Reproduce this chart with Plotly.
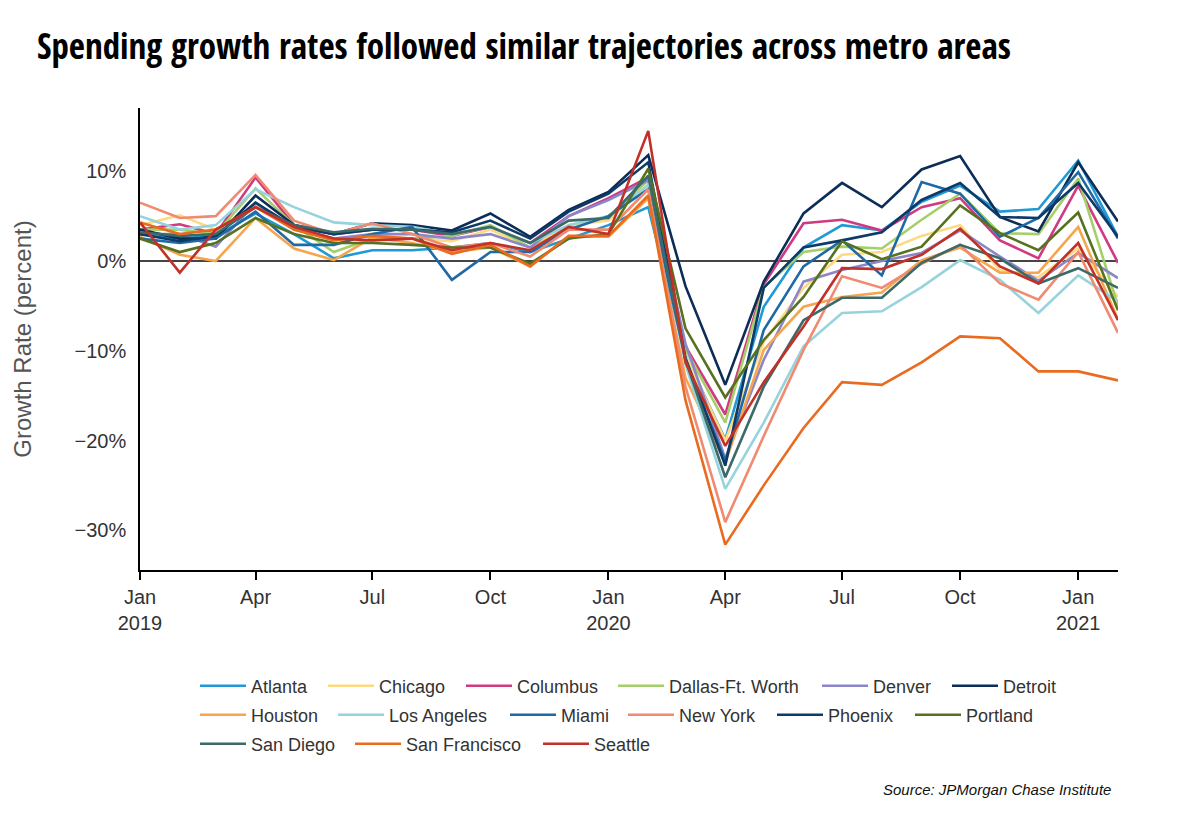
import plotly.graph_objects as go
import pandas as pd

months = pd.date_range("2019-01-01", "2021-02-01", freq="MS").strftime("%Y-%m-%d").tolist()

atlanta = [3.0, 2.5, 2.8, 5.3, 3.0, 0.3, 1.2, 1.2, 1.5, 2.0, 1.0, 2.5, 4.0, 6.0, -10.5, -19.9, -5.1, 1.5, 4.0, 3.4, 6.6, 8.4, 5.5, 5.8, 11.2, 2.7]
chicago = [4.0, 5.1, 3.5, 6.2, 3.5, 2.5, 2.8, 2.5, 2.2, 3.5, 1.5, 4.0, 4.5, 8.5, -10.5, -20.0, -9.0, -3.0, 0.7, 1.0, 2.8, 4.0, -1.0, -1.8, 1.4, -4.0]
columbus = [3.5, 4.1, 3.0, 9.3, 4.0, 3.0, 3.5, 3.5, 2.8, 3.8, 2.0, 5.0, 7.0, 9.3, -9.5, -17.1, -2.6, 4.2, 4.6, 3.4, 6.0, 7.0, 2.3, 0.3, 8.4, -0.2]
dallas = [3.5, 3.5, 3.0, 8.1, 4.0, 1.0, 2.5, 2.5, 2.8, 4.0, 1.5, 3.5, 5.0, 9.0, -9.8, -18.0, -2.9, 1.0, 1.6, 1.4, 4.6, 7.5, 3.1, 3.0, 9.2, -5.0]
denver = [3.0, 3.0, 1.6, 6.5, 3.5, 2.5, 3.0, 3.0, 2.5, 3.0, 1.5, 5.0, 6.8, 9.0, -9.2, -22.0, -11.0, -2.3, -1.0, 0.0, 0.9, 3.4, 0.5, -2.2, 0.9, -1.9]
detroit = [3.5, 2.5, 2.5, 7.3, 4.0, 3.0, 4.2, 4.0, 3.4, 5.3, 2.7, 5.7, 7.7, 11.8, -2.8, -13.8, -2.3, 5.3, 8.7, 6.0, 10.2, 11.7, 4.9, 3.3, 11.0, 4.4]
houston = [2.7, 0.7, 0.0, 4.8, 1.4, 0.1, 2.6, 2.0, 1.0, 1.5, -0.6, 2.7, 2.7, 7.0, -13.0, -22.5, -9.9, -5.1, -4.0, -3.5, 0.1, 1.5, -1.3, -1.3, 3.8, -6.5]
los_angeles = [5.0, 3.5, 4.0, 8.0, 6.0, 4.3, 4.0, 3.8, 3.0, 3.8, 2.0, 4.0, 5.0, 8.5, -11.5, -25.4, -18.0, -9.5, -5.8, -5.6, -2.9, 0.1, -2.1, -5.8, -1.6, -4.5]
miami = [2.5, 2.0, 2.5, 5.5, 1.8, 1.8, 3.0, 3.8, -2.1, 1.0, 1.0, 3.5, 5.0, 8.0, -11.0, -22.3, -7.7, -0.6, 2.3, -1.6, 8.8, 7.5, 2.7, 4.8, 9.9, 2.5]
new_york = [6.5, 4.8, 5.0, 9.6, 4.5, 3.0, 4.2, 3.0, 1.5, 2.0, 0.5, 3.5, 3.5, 8.0, -14.0, -29.1, -19.5, -9.9, -1.7, -3.0, -0.3, 1.8, -2.5, -4.3, 1.0, -8.0]
phoenix = [3.0, 2.2, 2.8, 6.5, 3.8, 3.0, 3.5, 3.5, 3.2, 4.5, 2.5, 5.5, 7.5, 11.0, -10.8, -22.8, -3.0, 1.5, 2.3, 3.2, 6.8, 8.7, 4.9, 4.8, 8.7, 2.7]
portland = [2.5, 1.0, 2.0, 4.8, 3.0, 2.0, 2.0, 1.8, 1.5, 1.5, -0.3, 2.5, 3.0, 10.3, -7.5, -15.2, -8.8, -4.0, 2.2, 0.2, 1.6, 6.2, 3.1, 1.2, 5.4, -5.5]
san_diego = [3.2, 2.8, 3.0, 6.0, 4.0, 3.2, 3.6, 3.5, 3.0, 3.8, 2.0, 4.5, 4.8, 9.5, -11.0, -24.1, -14.0, -6.6, -4.1, -4.1, -0.2, 1.8, 0.3, -2.5, -0.8, -3.0]
san_francisco = [4.3, 3.0, 3.5, 6.0, 3.5, 2.3, 2.8, 2.5, 0.8, 1.8, -0.6, 2.8, 2.8, 7.3, -15.5, -31.6, -25.0, -18.6, -13.5, -13.8, -11.3, -8.4, -8.6, -12.3, -12.3, -13.3]
seattle = [4.3, -1.3, 3.5, 6.0, 3.8, 2.5, 2.3, 2.5, 1.2, 2.0, 1.2, 3.8, 3.0, 14.5, -11.3, -20.6, -13.5, -7.3, -0.8, -0.9, 0.7, 3.6, -0.6, -2.5, 2.0, -6.6]

metros = ["Atlanta", "Chicago", "Columbus", "Dallas-Ft. Worth", "Denver", "Detroit",
          "Houston", "Los Angeles", "Miami", "New York", "Phoenix", "Portland",
          "San Diego", "San Francisco", "Seattle"]
series = [atlanta, chicago, columbus, dallas, denver, detroit, houston, los_angeles,
          miami, new_york, phoenix, portland, san_diego, san_francisco, seattle]
colors = ["#1f9ad6", "#fdd97f", "#cf3a80", "#a5cf6a", "#8b86c8", "#0c2d57",
          "#f6a54d", "#96d3dc", "#1f69a6", "#f08b72", "#0e3a68", "#56711f",
          "#3c6a68", "#e96b1f", "#c1312a"]

tick_vals = ["2019-01-01", "2019-04-01", "2019-07-01", "2019-10-01", "2020-01-01",
             "2020-04-01", "2020-07-01", "2020-10-01", "2021-01-01"]
tick_text = ["Jan<br>2019", "Apr", "Jul", "Oct", "Jan<br>2020", "Apr", "Jul", "Oct", "Jan<br>2021"]
y_ticks = [-30, -20, -10, 0, 10]
y_tick_text = ["\u221230%", "\u221220%", "\u221210%", "0%", "10%"]

# page offset (browser body margin) and target pixel positions from the reference
OFF = 8
leg_x = [200, 328, 466, 618, 822, 952, 200, 338, 510, 628, 777, 915, 200, 355, 543]
leg_y = [686, 686, 686, 686, 686, 686, 715, 715, 715, 715, 715, 715, 744, 744, 744]

W, H = 1200 - OFF, 817 - OFF
PL, PR, PT, PB = 140 - OFF, 1118 - OFF, 108 - OFF, 570 - OFF
pw, ph = PR - PL, PB - PT

fig = go.Figure()
layout_legends = {}
for i, (name, vals, col) in enumerate(zip(metros, series, colors)):
    lid = "legend" if i == 0 else f"legend{i+1}"
    fig.add_trace(go.Scatter(x=months, y=vals, mode="lines", name=name, showlegend=True,
                             line=dict(color=col, width=2.6), legend=lid))
    layout_legends[lid] = dict(
        orientation="h", xanchor="left", yanchor="middle",
        x=(leg_x[i] - OFF - 5 - PL) / pw, y=(PB - (leg_y[i] - OFF)) / ph,
        itemwidth=46, font=dict(family="Liberation Sans, Arial, sans-serif", size=18, color="#333"),
        bgcolor="rgba(0,0,0,0)", borderwidth=0, itemclick=False, itemdoubleclick=False,
    )

fig.update_layout(
    width=W, height=H, showlegend=True,
    margin=dict(l=PL, r=W - PR, t=PT, b=H - PB),
    paper_bgcolor="white", plot_bgcolor="white",
    font=dict(family="Liberation Sans, Arial, sans-serif", color="#333"),
    title=dict(text="<b>Spending growth rates followed similar trajectories across metro areas</b>",
               x=(37 - OFF) / W, xanchor="left", xref="container",
               y=1 - (47 - OFF) / H, yanchor="middle", yref="container",
               font=dict(family="Open Sans Condensed, Roboto Condensed, Liberation Sans Narrow, Roboto, sans-serif",
                         size=35, color="#000", weight=700)),
    xaxis=dict(type="date", range=["2019-01-01", "2021-02-01"],
               tickvals=tick_vals, ticktext=tick_text,
               ticks="outside", ticklen=8, tickwidth=1.5, tickcolor="#000",
               showline=True, linecolor="#000", linewidth=1.5,
               showgrid=False, zeroline=False,
               tickfont=dict(size=20, color="#333")),
    yaxis=dict(range=[-34.43, 17.05], tickvals=y_ticks, ticktext=y_tick_text,
               showline=True, linecolor="#000", linewidth=1.5,
               showgrid=False, zeroline=True, zerolinecolor="#444", zerolinewidth=1.5,
               ticks="", ticklabelstandoff=8,
               tickfont=dict(size=20, color="#333"),
               title=dict(text="Growth Rate (percent)", standoff=36,
                          font=dict(size=24, color="#555"))),
    annotations=[dict(text="<i>Source: JPMorgan Chase Institute</i>",
                      xref="paper", yref="paper", x=(1113 - OFF - PL) / pw, y=(PB - (789 - OFF)) / ph,
                      xanchor="right", yanchor="middle", showarrow=False,
                      font=dict(size=15, color="#111"))],
    **layout_legends,
)

fig.write_html("out.html")
